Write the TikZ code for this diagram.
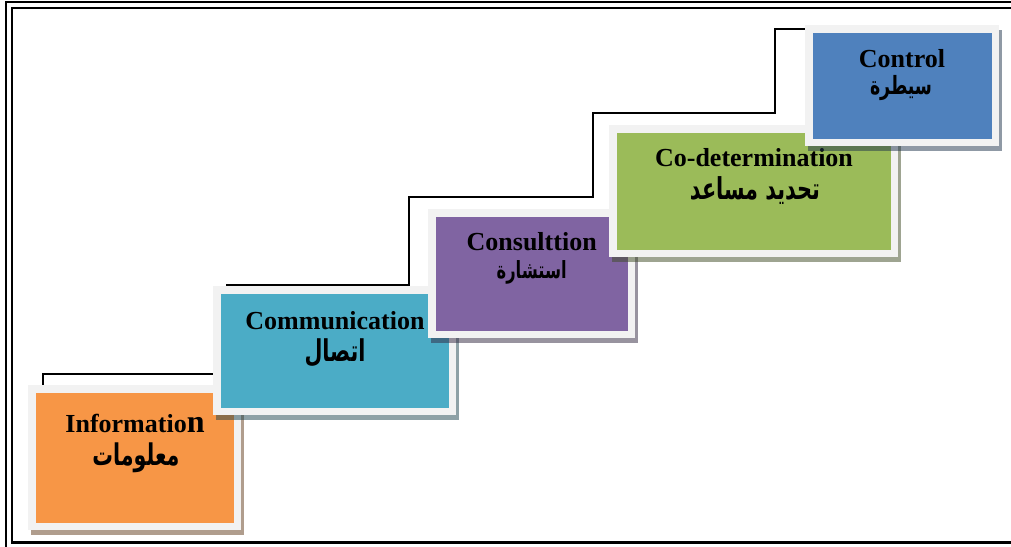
\documentclass[tikz,border=0pt]{standalone}
\usepackage{fontspec}
\setmainfont{Liberation Serif}
\newfontfamily\arabicfont[Script=Arabic]{DejaVu Sans}
\TeXXeTstate=1
\definecolor{cOrange}{HTML}{F79646}
\definecolor{cTeal}{HTML}{4BACC6}
\definecolor{cPurple}{HTML}{8064A2}
\definecolor{cGreen}{HTML}{9BBB59}
\definecolor{cBlue}{HTML}{4F81BD}
\definecolor{cFrame}{HTML}{F2F2F2}
\tikzset{
  outerbox/.style={draw=none, fill=cFrame, inner sep=0pt, anchor=north west},
  innerbox/.style={draw=none, inner sep=0pt},
  shadowbox/.style={fill=#1!40!black, opacity=0.5},
  titletext/.style={font=\bfseries\fontsize{26}{26}\selectfont, inner sep=0pt, anchor=base},
  artext/.style={font=\arabicfont\bfseries, inner sep=0pt, anchor=base},
  stairline/.style={draw=black, line width=1.6pt, line join=miter},
  framebig/.style={draw=black, line width=2pt},
  framesmall/.style={draw=black, line width=2.5pt}
}
\newcommand{\mkbox}[6]{%
  \path[shadowbox=#6] (#2+3,#3+5) rectangle (#4+3,#5+5);
  \node[outerbox, minimum width=#4-#2, minimum height=#5-#3] (#1) at (#2,#3) {};
  \node[innerbox, fill=#6, minimum width=#4-#2-15, minimum height=#5-#3-15] (#1in) at (#1.center) {};
}
\newcommand{\artxt}[2]{\scalebox{1}[1.45]{\resizebox{#1}{!}{#2}}}
\begin{document}
\begin{tikzpicture}[x=1pt,y=-1pt]
\useasboundingbox (0,0) rectangle (1011,546);
\fill[white] (0,0) rectangle (1011,546);
% double frame
\draw[framebig] (6,2) rectangle (1020,552);
\draw[framesmall] (12,8) rectangle (1015,542.5);
% staircase connector
\coordinate (s0) at (43,385);
\coordinate (s1) at (43,374);
\coordinate (s2) at (227,374);
\coordinate (s3) at (227,285);
\coordinate (s4) at (409,285);
\coordinate (s5) at (409,197);
\coordinate (s6) at (593,197);
\coordinate (s7) at (593,113);
\coordinate (s8) at (775,113);
\coordinate (s9) at (775,29);
\coordinate (s10) at (806,29);
\draw[stairline] (s0) -- (s1) -- (s2) -- (s3) -- (s4) -- (s5) -- (s6) -- (s7) -- (s8) -- (s9) -- (s10);
% boxes
\mkbox{b1}{28}{385}{241}{530}{cOrange}
\node[titletext] (t1) at (135,432) {Informatio{\fontsize{32}{32}\selectfont n}};
\node[artext] (a1) at (136,465) {\artxt{87pt}{\beginR معلومات\endR}};
\mkbox{b2}{213}{286}{456}{415}{cTeal}
\node[titletext] (t2) at (335,329) {Communication};
\node[artext] (a2) at (335,361) {\artxt{61pt}{\beginR اتصال\endR}};
\mkbox{b3}{428}{209}{635}{338}{cPurple}
\node[titletext] (t3) at (531.7,250.7) {Consulttion};
\node[artext] (a3) at (531.7,278) {\artxt{70pt}{\beginR استشارة\endR}};
\mkbox{b4}{609}{125}{898}{257}{cGreen}
\node[titletext] (t4) at (754,166) {Co-determination};
\node[artext] (a4) at (755,199) {\artxt{130pt}{\beginR تحديد مساعد\endR}};
\mkbox{b5}{805}{25}{999}{146}{cBlue}
\node[titletext] (t5) at (902,67) {Control};
\node[artext] (a5) at (901,94) {\artxt{62pt}{\beginR سيطرة\endR}};
\end{tikzpicture}
\end{document}
